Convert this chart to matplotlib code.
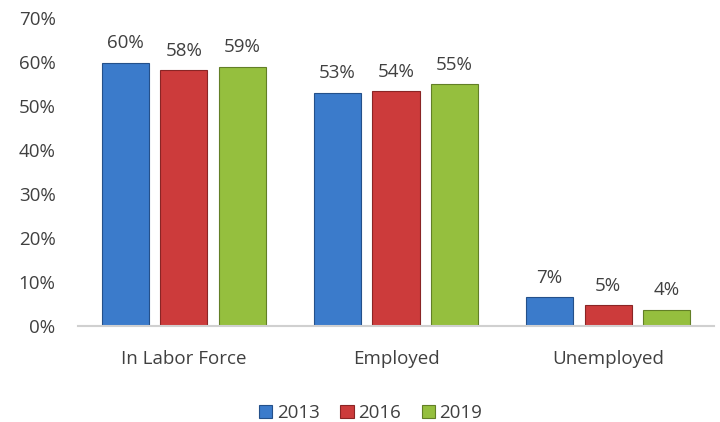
import numpy as np
import matplotlib
matplotlib.use('Agg')
import matplotlib.pyplot as plt

categories = ['In Labor Force', 'Employed', 'Unemployed']
years = ['2013', '2016', '2019']
values = {
    '2013': [59.8, 53.0, 6.6],
    '2016': [58.2, 53.4, 4.8],
    '2019': [58.9, 55.0, 3.7],
}
labels = {
    '2013': ['60%', '53%', '7%'],
    '2016': ['58%', '54%', '5%'],
    '2019': ['59%', '55%', '4%'],
}

colors = {'2013': '#3b7bcb', '2016': '#cc3b3b', '2019': '#95bf3e'}
edges = {'2013': '#24508a', '2016': '#8a2525', '2019': '#627f26'}

plt.rcParams['font.family'] = ['Open Sans', 'DejaVu Sans']
text_color = '#404040'
fs = 13.5

fig = plt.figure(figsize=(7.2, 4.22), dpi=100)
ax = fig.add_axes([0.108, 0.227, 0.884, 0.73])

x = np.arange(len(categories))
width = 0.222
step = 0.276
for i, yr in enumerate(years):
    pos = x + (i - 1) * step
    bars = ax.bar(pos, values[yr], width, color=colors[yr], edgecolor=edges[yr],
                  linewidth=0.8, label=yr)
    for b, lab in zip(bars, labels[yr]):
        ax.text(b.get_x() + b.get_width() / 2, b.get_height() + 2.4, lab,
                ha='center', va='bottom', fontsize=fs, color=text_color)

ax.set_xlim(-0.5, 2.5)
ax.set_ylim(0, 70)
ax.set_yticks(np.arange(0, 71, 10))
ax.set_yticklabels([f'{v}%' for v in range(0, 71, 10)])
ax.set_xticks(x)
ax.set_xticklabels(categories)
ax.tick_params(axis='both', length=0, labelsize=fs, colors=text_color)
ax.tick_params(axis='x', pad=17)
ax.tick_params(axis='y', pad=16)
for s in ['top', 'right', 'left']:
    ax.spines[s].set_visible(False)
ax.spines['bottom'].set_color('#d0d0d0')
ax.spines['bottom'].set_linewidth(1.5)

leg = fig.legend(loc='lower center', bbox_to_anchor=(0.515, -0.04), ncol=3, frameon=False,
                 fontsize=fs, handlelength=0.7, handleheight=0.7, handletextpad=0.25,
                 columnspacing=1.1)
for t in leg.get_texts():
    t.set_color(text_color)

fig.savefig('out.png', dpi=100)
